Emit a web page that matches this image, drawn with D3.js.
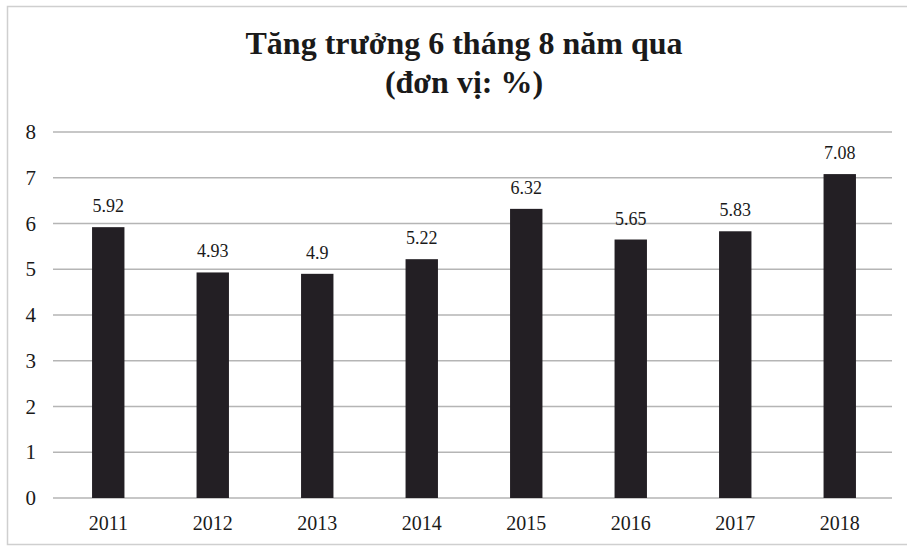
<!DOCTYPE html>
<meta charset="utf-8">
<script src="https://d3js.org/d3.v7.min.js"></script>
<style>
body { margin: 0; background: #fff; }
text { font-family: "Liberation Serif", "Times New Roman", serif; fill: #1a1a1a; }
</style>
<body>
</body>
<script>

// data
var years = ["2011", "2012", "2013", "2014", "2015", "2016", "2017", "2018"];
var growth = [5.92, 4.93, 4.9, 5.22, 6.32, 5.65, 5.83, 7.08];
var yTicks = [0, 1, 2, 3, 4, 5, 6, 7, 8];
var titleLines = ["Tăng trưởng 6 tháng 8 năm qua", "(đơn vị: %)"];

var W = 907, H = 552;
var margin = {top: 132, right: 15, bottom: 54, left: 56};
var width = W - margin.left - margin.right;
var height = H - margin.top - margin.bottom;

var svg = d3.select("body").append("svg")
  .attr("width", W)
  .attr("height", H);

// chart frame
svg.append("rect")
  .attr("x", 7.5).attr("y", 6.5)
  .attr("width", 905).attr("height", 538)
  .attr("fill", "none")
  .attr("stroke", "#cfcfcf")
  .attr("stroke-width", 1.5);

// title
svg.append("g").selectAll("text")
  .data(titleLines)
  .enter().append("text")
  .attr("x", 464)
  .attr("y", function(d, i) { return 54 + i * 39; })
  .attr("text-anchor", "middle")
  .style("font-size", "32px")
  .style("font-weight", "bold")
  .text(function(d) { return d; });

var g = svg.append("g")
  .attr("transform", "translate(" + margin.left + "," + margin.top + ")");

var xScale = d3.scaleBand()
  .domain(years)
  .range([0, width])
  .paddingInner(0.69)
  .paddingOuter(0.345);

var yScale = d3.scaleLinear()
  .domain([0, 8])
  .range([height, 0]);

// gridlines
g.selectAll(".grid")
  .data(yTicks)
  .enter().append("line")
  .attr("class", "grid")
  .attr("x1", -3).attr("x2", width)
  .attr("y1", function(d) { return yScale(d); })
  .attr("y2", function(d) { return yScale(d); })
  .attr("stroke", "#b5b5b5")
  .attr("stroke-width", 1.3);

// y axis labels
var yAxis = d3.axisLeft(yScale).tickValues(yTicks).tickSize(0).tickPadding(20);
var yAxisGroup = g.append("g").call(yAxis);
yAxisGroup.select(".domain").remove();
yAxisGroup.selectAll("text")
  .style("font-size", "21px")
  .style("font-family", "Liberation Serif, serif")
  .attr("fill", "#1a1a1a");

// x axis labels
var xAxis = d3.axisBottom(xScale).tickSize(0).tickPadding(18);
var xAxisGroup = g.append("g")
  .attr("transform", "translate(0," + height + ")")
  .call(xAxis);
xAxisGroup.select(".domain").remove();
xAxisGroup.selectAll("text")
  .style("font-size", "20px")
  .style("font-family", "Liberation Serif, serif")
  .attr("fill", "#1a1a1a");

// bars
g.selectAll(".bar")
  .data(growth)
  .enter().append("rect")
  .attr("class", "bar")
  .attr("x", function(d, i) { return xScale(years[i]); })
  .attr("y", function(d) { return yScale(d); })
  .attr("width", xScale.bandwidth())
  .attr("height", function(d) { return height - yScale(d); })
  .attr("fill", "#231f24");

// value labels
g.selectAll(".label")
  .data(growth)
  .enter().append("text")
  .attr("class", "label")
  .attr("x", function(d, i) { return xScale(years[i]) + xScale.bandwidth() / 2; })
  .attr("y", function(d) { return yScale(d) - 15; })
  .attr("text-anchor", "middle")
  .style("font-size", "18px")
  .text(function(d) { return d; });

</script>
